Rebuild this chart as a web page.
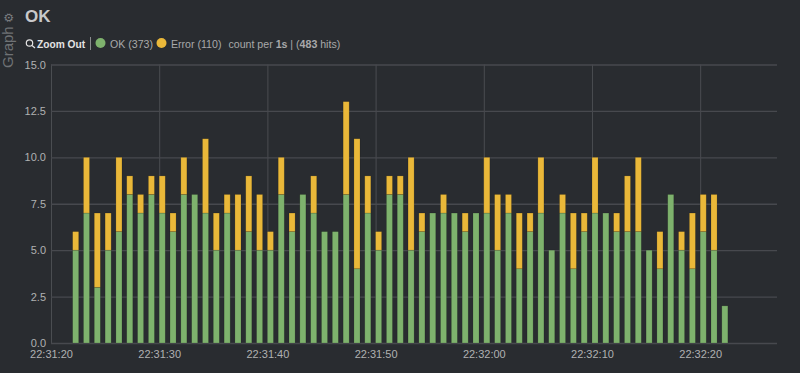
<!DOCTYPE html>
<html>
<head>
<meta charset="utf-8">
<script src="https://cdn.jsdelivr.net/npm/d3@7"></script>
<style>
  html, body { margin: 0; padding: 0; background: #292c30; overflow: hidden; }
  text { font-family: "Liberation Sans", sans-serif; }
  .tick text { font-size: 11px; fill: #b0b1b2; }
</style>
</head>
<body>
<div id="chart"></div>
<script>
const width = 800;
const height = 373;

// one entry per second, starting at 22:31:22
const okCounts = [
  5, 7, 3, 5, 6, 8, 7, 8, 7, 6,
  8, 8, 7, 5, 7, 5, 6, 5, 5, 8,
  6, 8, 7, 6, 6, 8, 4, 7, 5, 8,
  8, 5, 6, 7, 7, 7, 6, 7, 7, 5,
  7, 4, 6, 7, 5, 7, 4, 6, 7, 7,
  6, 6, 6, 5, 4, 8, 5, 4, 6, 5,
  2
];
const errorCounts = [
  1, 3, 4, 2, 4, 1, 1, 1, 2, 1,
  2, 0, 4, 2, 1, 3, 3, 3, 1, 2,
  1, 0, 2, 0, 0, 5, 7, 2, 1, 1,
  1, 5, 1, 0, 1, 0, 1, 0, 3, 3,
  1, 3, 1, 3, 0, 1, 3, 1, 3, 0,
  1, 3, 4, 0, 2, 0, 1, 3, 2, 3,
  0
];
const yTicks = [0, 2.5, 5, 7.5, 10, 12.5, 15];
const xTickSeconds = [20, 30, 40, 50, 60, 70, 80];
const seriesKeys = ['ok', 'error'];
const seriesColors = { ok: '#7eb26d', error: '#eab839' };

// seconds counted from 22:31:00, fractions allowed
const baseTime = +new Date(2016, 0, 1, 22, 31, 0);
const timeAt = (sec) => new Date(baseTime + sec * 1000);
const rows = okCounts.map((ok, i) => ({
  time: timeAt(22 + i),
  ok,
  error: errorCounts[i],
}));

const margin = { top: 64.5, right: 23, bottom: 30, left: 51 };
const usableArea = {
  top: margin.top,
  right: width - margin.right,
  bottom: height - margin.bottom,
  left: margin.left,
};

const svg = d3
  .select('#chart')
  .append('svg')
  .attr('width', width)
  .attr('height', height)
  .style('display', 'block');

const xScale = d3
  .scaleTime()
  .domain([timeAt(20), timeAt(87.1)])
  .range([usableArea.left, usableArea.right]);

const yScale = d3
  .scaleLinear()
  .domain([0, 15])
  .range([usableArea.bottom, usableArea.top]);

// Add X axis, its ticks double as the vertical grid
const xAxis = d3
  .axisBottom(xScale)
  .tickValues(xTickSeconds.map(timeAt))
  .tickFormat(d3.timeFormat('%H:%M:%S'))
  .tickSize(usableArea.top - usableArea.bottom)
  .tickPadding(7);

const xG = svg
  .append('g')
  .attr('transform', `translate(0, ${usableArea.bottom})`)
  .call(xAxis);
xG.select('.domain').remove();
xG.selectAll('line').attr('stroke', '#4a4d51');

// Add Y axis, same idea for the horizontal grid
const yAxis = d3
  .axisLeft(yScale)
  .tickValues(yTicks)
  .tickFormat(d3.format('.1f'))
  .tickSize(usableArea.left - usableArea.right)
  .tickPadding(5);

const yG = svg
  .append('g')
  .attr('transform', `translate(${usableArea.left}, 0)`)
  .call(yAxis);
yG.select('.domain').remove();
yG.selectAll('line').attr('stroke', '#47494e').attr('stroke-width', 1.3);

// Stacked bars
const stacked = d3.stack().keys(seriesKeys)(rows);
const barWidth = xScale(timeAt(20.56)) - xScale(timeAt(20));

svg
  .append('g')
  .selectAll('g')
  .data(stacked)
  .join('g')
  .attr('fill', (d) => seriesColors[d.key])
  .attr('stroke', 'rgba(0, 0, 0, 0.2)')
  .attr('stroke-width', 0.7)
  .selectAll('rect')
  .data((d) => d.filter((p) => p[1] > p[0]))
  .join('rect')
  .attr('x', (d) => xScale(d.data.time))
  .attr('y', (d) => yScale(d[1]))
  .attr('width', barWidth)
  .attr('height', (d) => yScale(d[0]) - yScale(d[1]));

// Title and rotated panel label
svg.append('text')
  .attr('x', 25).attr('y', 22)
  .attr('font-size', 17).attr('font-weight', 'bold')
  .attr('fill', '#c8c9ca')
  .text('OK');

svg.append('text')
  .attr('transform', 'translate(13, 68) rotate(-90)')
  .attr('font-size', 15)
  .attr('fill', '#6f7275')
  .text('Graph');

svg.append('text')
  .attr('transform', 'translate(12.5, 23) rotate(-90)')
  .style('font-family', '"DejaVu Sans"')
  .attr('font-size', 12)
  .attr('fill', '#7b7e81')
  .text('\u2699');

// Legend row
const legend = svg.append('g').attr('font-size', 10.6).attr('fill', '#a8a9aa');

legend.append('circle')
  .attr('cx', 29.5).attr('cy', 43)
  .attr('r', 3.2)
  .attr('fill', 'none')
  .attr('stroke', '#e4e4e4')
  .attr('stroke-width', 1.2);
legend.append('line')
  .attr('x1', 32).attr('y1', 45.5).attr('x2', 35).attr('y2', 48)
  .attr('stroke', '#e4e4e4')
  .attr('stroke-width', 1.2);

legend.append('text')
  .attr('x', 37).attr('y', 47.5)
  .attr('font-size', 10.2)
  .attr('font-weight', 'bold')
  .attr('fill', '#e4e4e4')
  .text('Zoom Out');

legend.append('line')
  .attr('x1', 90.5).attr('y1', 37).attr('x2', 90.5).attr('y2', 50)
  .attr('stroke', '#8a8c8e');

legend.append('circle')
  .attr('cx', 100.5).attr('cy', 43).attr('r', 5)
  .attr('fill', seriesColors.ok);
legend.append('text')
  .attr('x', 110).attr('y', 47.5)
  .text('OK (373)');

legend.append('circle')
  .attr('cx', 161.5).attr('cy', 43).attr('r', 5)
  .attr('fill', seriesColors.error);
legend.append('text')
  .attr('x', 171).attr('y', 47.5)
  .text('Error (110)');

const hits = legend.append('text')
  .attr('x', 228.5).attr('y', 47.5);
hits.append('tspan').text('count per ');
hits.append('tspan').attr('font-weight', 'bold').text('1s');
hits.append('tspan').text(' | (');
hits.append('tspan').attr('font-weight', 'bold').text('483');
hits.append('tspan').text(' hits)');
</script>
</body>
</html>
